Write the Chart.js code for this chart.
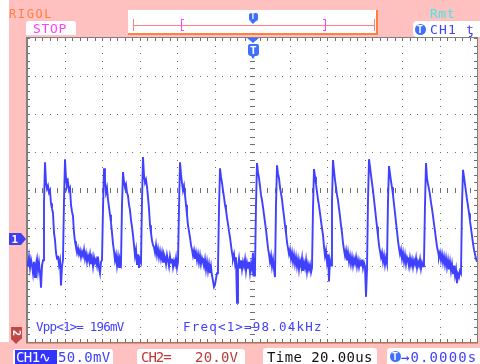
<!DOCTYPE html>
<html>
<head>
<meta charset="utf-8">
<script src="https://cdn.jsdelivr.net/npm/chart.js@4"></script>
<style>
  html, body { margin: 0; padding: 0; background: #ffc0c0; }
  #scope-wrap { position: relative; width: 480px; height: 364px; background: #ffc0c0; overflow: hidden; }
  #scope { position: absolute; left: 0; top: 0; }
  .box { position: absolute; background: #ffffff; }
  .t { position: absolute; font-family: 'DejaVu Sans Mono', monospace; white-space: pre; line-height: 1; }
</style>
</head>
<body>
<div id="scope-wrap">
  <div class="box" style="left:0;top:0;width:9px;height:342px;"></div>
  <canvas id="scope" width="480" height="364"></canvas>

  <!-- top bar -->
  <div class="t" style="left:9px;top:7.5px;font-size:12px;color:#ff8040;letter-spacing:1.6px;">RIGOL</div>
  <div class="box" style="left:26px;top:21px;width:50px;height:14px;border-radius:3px 3px 0 0;"></div>
  <div class="t" style="left:33px;top:21.5px;font-size:13px;color:#ff40ff;letter-spacing:0.7px;">STOP</div>

  <div class="box" style="left:128px;top:10px;width:248px;height:23px;border-bottom:2px solid #ff7f40;border-right:2px solid #ff7f40;"></div>
  <div class="box" style="left:133px;top:25px;width:242px;height:1px;background:#ff8080;"></div>
  <div class="box" style="left:133px;top:19px;width:1px;height:12px;background:#ff8080;"></div>
  <div class="box" style="left:374px;top:19px;width:1px;height:12px;background:#ff8080;"></div>
  <div class="box" style="left:181px;top:19px;width:2px;height:10px;background:transparent;border:1px solid #ff40ff;border-right:none;"></div>
  <div class="box" style="left:323px;top:19px;width:2px;height:10px;background:transparent;border:1px solid #ff40ff;border-left:none;"></div>
  <div class="box" style="left:249px;top:13px;width:9px;height:8px;background:#3f6fff;border-radius:2px;"></div>
  <div class="box" style="left:250px;top:21px;width:0;height:0;background:transparent;border-left:3.5px solid transparent;border-right:3.5px solid transparent;border-top:3px solid #3f6fff;"></div>
  <div class="t" style="left:250.5px;top:13px;font-size:8px;font-weight:bold;color:#ffffff;">T</div>

  <div class="t" style="left:430px;top:6.5px;font-size:13px;color:#40e8e8;letter-spacing:0.5px;">Rmt</div>
  <div class="box" style="left:413px;top:21px;width:67px;height:16px;border-radius:4px 0 0 4px;"></div>
  <div class="box" style="left:415px;top:24px;width:11px;height:11px;background:#3f6fff;border-radius:50%;"></div>
  <div class="t" style="left:417px;top:25px;font-size:10px;font-weight:bold;color:#ffffff;">T</div>
  <div class="t" style="left:430px;top:22.5px;font-size:13px;color:#4040ff;letter-spacing:1.2px;">CH1</div>
  <div class="t" style="left:466px;top:22.5px;font-size:13px;color:#4040ff;">ƫ</div>

  <!-- trigger position marker -->
  <div class="box" style="left:247px;top:38px;width:0;height:0;background:transparent;border-left:6px solid transparent;border-right:6px solid transparent;border-top:5px solid #3f6fff;"></div>
  <div class="box" style="left:248px;top:44px;width:11px;height:12px;background:#3f6fff;border-radius:2px 2px 3px 3px;"></div>
  <div class="box" style="left:251px;top:56px;width:0;height:0;background:transparent;border-left:2.5px solid transparent;border-right:2.5px solid transparent;border-top:3px solid #3f6fff;"></div>
  <div class="t" style="left:250px;top:44.5px;font-size:11px;font-weight:bold;color:#ffffff;">T</div>

  <!-- channel markers -->
  <div class="box" style="left:9px;top:233px;width:12px;height:12px;background:#4040ee;"></div>
  <div class="box" style="left:21px;top:233px;width:0;height:0;background:transparent;border-top:6px solid transparent;border-bottom:6px solid transparent;border-left:5px solid #4040ee;"></div>
  <div class="t" style="left:11.5px;top:233.5px;font-size:11px;font-weight:bold;color:#ffffff;">1</div>

  <div class="box" style="left:11px;top:327px;width:11px;height:12px;background:#c04848;"></div>
  <div class="box" style="left:11px;top:339px;width:0;height:0;background:transparent;border-left:5.5px solid transparent;border-right:5.5px solid transparent;border-top:5px solid #c04848;"></div>
  <div class="t" style="left:13px;top:328px;font-size:10px;font-weight:bold;color:#ffffff;transform:rotate(90deg);">2</div>

  <!-- measurements -->
  <div class="t" style="left:36px;top:321.2px;font-size:12.5px;color:#4040ff;letter-spacing:-0.8px;">Vpp&lt;1&gt;= 196mV</div>
  <div class="t" style="left:183px;top:321.2px;font-size:12.5px;color:#4040ff;letter-spacing:1.2px;">Freq&lt;1&gt;=98.04kHz</div>

  <!-- bottom status -->
  <div class="box" style="left:13px;top:349px;width:100px;height:15px;border-radius:3px 3px 0 0;"></div>
  <div class="box" style="left:15px;top:350px;width:42px;height:14px;background:#3333ff;"></div>
  <div class="t" style="left:16px;top:350.4px;font-size:14px;color:#ffffff;letter-spacing:-0.6px;">CH1∿</div>
  <div class="t" style="left:58px;top:350.4px;font-size:14px;color:#4040ff;letter-spacing:0.3px;">50.0mV</div>

  <div class="box" style="left:137px;top:349px;width:108px;height:15px;border-radius:3px 3px 0 0;"></div>
  <div class="t" style="left:141px;top:350.4px;font-size:14px;color:#c03838;letter-spacing:-1px;">CH2=</div>
  <div class="t" style="left:195px;top:350.4px;font-size:14px;color:#c03838;letter-spacing:0.2px;">20.0V</div>

  <div class="box" style="left:263px;top:348px;width:114px;height:16px;border-radius:3px 3px 0 0;"></div>
  <div class="t" style="left:267px;top:350.4px;font-size:14px;color:#111111;letter-spacing:0.4px;">Time 20.00us</div>

  <div class="box" style="left:387px;top:348px;width:93px;height:16px;border-radius:3px 0 0 0;"></div>
  <div class="box" style="left:390px;top:351px;width:11px;height:11px;background:#3f6fff;border-radius:50%;"></div>
  <div class="t" style="left:392px;top:352px;font-size:10px;font-weight:bold;color:#ffffff;">T</div>
  <div class="t" style="left:401px;top:350.4px;font-size:14px;color:#4040ff;letter-spacing:1.1px;">→0.0000s</div>
</div>

<script>
// scope settings
const timePerDivUs = 20;
const hDivs = 12;
const vDivs = 8;
const mvPerDiv = 50;
const screenCenterMv = 64.5;   // ground marker sits ~1.29 div below centre
const sampleCount = 451;

// CH1 samples, mV relative to ground, one row = 10 samples
const ch1Trace = [
  -28, -36, -24, -38, -27, -34, -45, -30, -50, -33,
  -26, -42, -31, -44, -64, -35, -28, 47, 101, 74,
  66, 70, 61, 64, 47, 40, 34, 8, -1, -18,
  -26, -22, -34, -28, -61, -36, -27, 50, 105, 80,
  70, 75, 64, 67, 45, 36, 30, 8, -3, -11,
  -18, -12, -20, -15, -24, -17, -22, -14, -26, -19,
  -30, -22, -28, -20, -33, -25, -36, -24, -31, -27,
  -35, -23, -38, -45, -30, -28, 40, 93, 78, 61,
  67, 52, 42, 32, 22, 8, -6, -16, -28, -21,
  -35, -24, -37, -27, -32, 45, 88, 75, 68, 72,
  61, 57, 45, 38, 25, 16, 5, -8, -22, -14,
  -34, -20, -38, -26, -30, 50, 108, 84, 74, 78,
  69, 55, 40, 18, 8, -2, -8, -11, -18, -8,
  -21, -13, -24, -16, -26, -18, -30, -20, -24, -33,
  -21, -28, -36, -23, -31, -26, -37, -29, -34, -25,
  -38, -30, 40, 101, 85, 74, 64, 70, 58, 45,
  32, 18, 10, 2, -8, -14, -22, -15, -26, -18,
  -28, -20, -31, -22, -33, -25, -30, -36, -27, -40,
  -30, -42, -33, -45, -36, -48, -55, -63, -60, -52,
  -45, -38, 40, 93, 82, 74, 64, 55, 45, 38,
  28, 20, 10, 2, -8, -18, -26, -20, -32, -24,
  -84, -36, -26, -38, -28, -40, -30, -36, -27, -42,
  -31, -38, -30, -44, -33, -40, -18, -48, -40, 45,
  100, 88, 80, 70, 58, 51, 42, 32, 22, 12,
  0, -12, -20, -30, -22, -36, -27, -40, -50, 45,
  97, 86, 80, 68, 60, 52, 40, 30, 18, 8,
  -4, -12, -20, -14, -26, -18, -30, -21, -33, -24,
  -36, -27, -40, -29, -35, -25, -42, -31, -38, -28,
  -43, -33, -40, -34, -44, -38, 40, 92, 82, 72,
  62, 52, 44, 34, 24, 14, 5, -10, -22, -15,
  -30, -20, -56, -28, -35, 50, 104, 90, 78, 68,
  58, 51, 40, 30, 18, 8, -5, -14, -22, -15,
  -28, -18, -30, -22, -33, -24, -35, -26, -32, -24,
  -36, -28, -37, -29, -35, -27, -38, -31, -36, -76,
  -40, 50, 105, 95, 84, 74, 64, 52, 40, 28,
  16, 4, -8, -16, -24, -18, -30, -22, -34, -25,
  -32, 50, 96, 86, 76, 68, 58, 46, 34, 22,
  10, -2, -12, -20, -14, -26, -18, -30, -21, -33,
  -24, -28, -36, -25, -34, -27, -37, -28, -33, -25,
  -38, -30, -35, -27, -39, -31, -36, -30, 45, 100,
  80, 72, 66, 58, 48, 40, 30, 20, 10, 0,
  -10, -16, -24, -18, -28, -20, -31, -23, -34, -25,
  -37, -28, -40, -30, -42, -33, -45, -35, -48, -40,
  -58, -46, -50, -42, -45, 45, 91, 82, 72, 62,
  52, 44, 34, 24, 14, 4, -6, -14, -20, -26,
  -30
];

const xMin = -timePerDivUs * hDivs / 2;
const xMax = timePerDivUs * hDivs / 2;
const yMin = screenCenterMv - mvPerDiv * vDivs / 2;
const yMax = screenCenterMv + mvPerDiv * vDivs / 2;
const sampleUs = (xMax - xMin) / (sampleCount - 1);

const ch1Points = ch1Trace.map((v, i) => ({ x: xMin + i * sampleUs, y: v }));

// rigol style dotted graticule
const graticule = {
    id: 'graticule',
    beforeDatasetsDraw(chart) {
        const { ctx, chartArea: a, scales } = chart;
        const xs = [];
        const ys = [];
        for (let k = 0; k <= hDivs * 5; k++) xs.push(Math.round(scales.x.getPixelForValue(xMin + k * timePerDivUs / 5)));
        for (let k = 0; k <= vDivs * 5; k++) ys.push(Math.round(scales.y.getPixelForValue(yMin + k * mvPerDiv / 5)));

        ctx.save();
        ctx.fillStyle = '#ffffff';
        ctx.fillRect(a.left, a.top, a.right - a.left, a.bottom - a.top);

        ctx.fillStyle = '#6e6e6e';
        xs.forEach((px, i) => {
            if (i % 5 === 0 && i > 0 && i < xs.length - 1) ys.forEach(py => ctx.fillRect(px, py, 1, 1));
        });
        ys.forEach((py, j) => {
            if (j % 5 === 0 && j > 0 && j < ys.length - 1) xs.forEach(px => ctx.fillRect(px, py, 1, 1));
        });

        // centre cross ticks
        const cx = xs[xs.length >> 1];
        const cy = ys[ys.length >> 1];
        xs.forEach(px => ctx.fillRect(px, cy - 2, 1, 5));
        ys.forEach(py => ctx.fillRect(cx - 2, py, 5, 1));

        // border ticks
        xs.forEach(px => {
            ctx.fillRect(px, a.top, 1, 3);
            ctx.fillRect(px, a.bottom - 3, 1, 3);
        });
        ys.forEach(py => {
            ctx.fillRect(a.left, py, 3, 1);
            ctx.fillRect(a.right - 3, py, 3, 1);
        });

        // frame
        ctx.fillStyle = '#808080';
        ctx.fillRect(a.left - 1, a.top - 1, 2, a.bottom - a.top + 1);
        ctx.fillRect(a.left - 1, a.top - 1, a.right - a.left + 1, 1);
        ctx.fillRect(a.right, a.top - 1, 1, a.bottom - a.top + 1);
        ctx.fillRect(a.left - 1, a.bottom, a.right - a.left + 2, 1);
        ctx.fillStyle = '#ff8a5a';
        ctx.fillRect(a.left - 1, a.bottom + 1, a.right - a.left + 2, 1);
        ctx.restore();
    }
};

const ctx = document.getElementById('scope').getContext('2d');

const scopeChart = new Chart(ctx, {
    type: 'line',
    data: {
        datasets: [{
            label: 'CH1',
            data: ch1Points,
            borderColor: '#4040ff',
            borderWidth: 1.9,
            pointRadius: 0,
            tension: 0,
            fill: false
        }]
    },
    options: {
        responsive: false,
        animation: false,
        devicePixelRatio: 1,
        layout: {
            padding: { left: 27, top: 38, right: 3, bottom: 22 }
        },
        plugins: {
            legend: { display: false },
            tooltip: { enabled: false }
        },
        scales: {
            x: { type: 'linear', min: xMin, max: xMax, display: false },
            y: { type: 'linear', min: yMin, max: yMax, display: false }
        }
    },
    plugins: [graticule]
});
</script>
</body>
</html>
